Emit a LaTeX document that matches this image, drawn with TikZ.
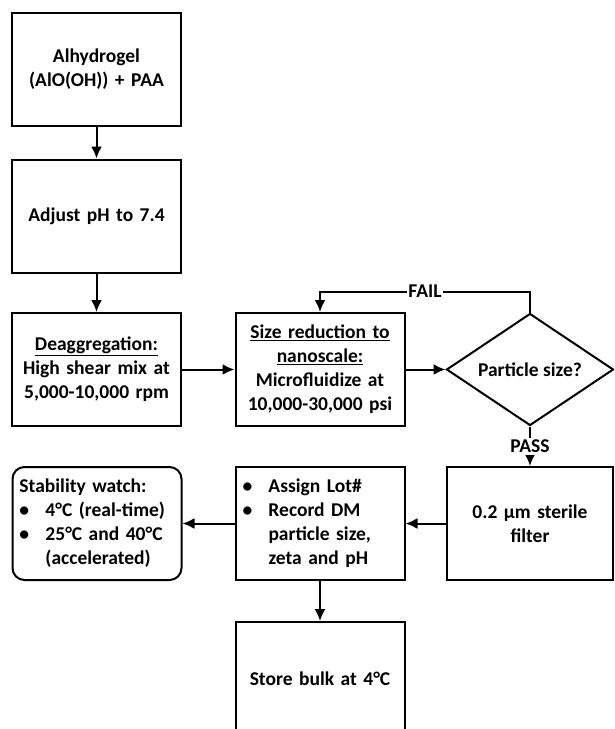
\documentclass[tikz,border=0pt]{standalone}
\usepackage{fontspec}
\setmainfont{Carlito}
\usetikzlibrary{shapes,arrows.meta}
\tikzstyle{stage} = [rectangle, draw, line width=2pt, text width=155pt,
    align=center, minimum width=169pt, minimum height=113pt, inner sep=0pt]
\tikzstyle{note} = [stage, rounded corners=12pt, align=left]
\tikzstyle{check} = [diamond, draw, line width=2pt, aspect=1.5,
    minimum width=167pt, minimum height=112pt, inner sep=0pt, align=center]
\tikzstyle{line} = [draw, line width=2pt, -{Latex[length=12pt, width=11pt]}]
\newcommand{\bitem}[1]{\makebox[26pt][l]{\textbullet}#1}
\newcommand{\bcont}[1]{\hspace*{26pt}#1}

\begin{document}
\begin{tikzpicture}[x=1pt, y=1pt, font=\fontsize{19.5}{24}\selectfont\bfseries]
    \useasboundingbox (0,0) rectangle (614,-729);
    \clip (0,0) rectangle (614,-729);
    % Place nodes
    \node [stage] at (96.5,-69.5) (alhy) {Alhydrogel\\(AlO(OH)) + PAA};
    \node [stage, below of=alhy, node distance=146.5pt] (ph) {Adjust pH to 7.4};
    \node [stage, below of=ph, node distance=153.5pt] (deagg) {\underline{Deaggregation:}\\High shear mix at\\5,000-10,000 rpm};
    \node [stage, right of=deagg, node distance=223.5pt] (size) {\underline{Size reduction to}\\\underline{nanoscale:}\\Microfluidize at\\10,000-30,000 psi};
    \node [check, right of=size, node distance=210pt] (psize) {Particle size?};
    \node [stage, below of=psize, node distance=154pt, minimum width=166pt] (filter) {0.2 µm sterile\\filter};
    \node [stage, left of=filter, node distance=210pt, align=left] (lot) {\bitem{Assign Lot\#}\\\bitem{Record DM}\\\bcont{particle size,}\\\bcont{zeta and pH}};
    \node [note, left of=lot, node distance=223pt] (watch) {Stability watch:\\\bitem{4°C (real-time)}\\\bitem{25°C and 40°C}\\\bcont{(accelerated)}};
    \node [stage, below of=lot, node distance=155pt] (store) {Store bulk at 4°C};

    % Draw lines
    \path [line] (alhy) -- (ph);
    \path [line] (ph) -- (deagg);
    \path [line] (deagg) -- (size);
    \path [line] (size) -- (psize);
    \path [line] (psize.north) -- ++(0,21) -| node [pos=0.25, fill=white, inner sep=1pt] {FAIL} (size.north);
    \path [line] (psize) -- node [fill=white, inner sep=2pt] {PASS} (filter);
    \path [line] (filter) -- (lot);
    \path [line] (lot) -- (watch);
    \path [line] (lot) -- (store);
\end{tikzpicture}
\end{document}
